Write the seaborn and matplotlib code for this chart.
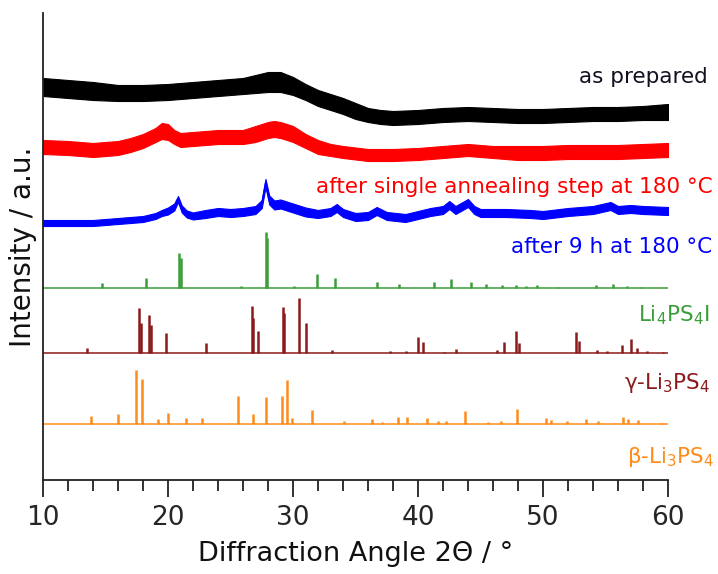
import numpy as np
import pandas as pd
import matplotlib
matplotlib.use("Agg")
import matplotlib.pyplot as plt
import seaborn as sns

# ---------------- data ----------------
# noisy measured patterns: node angles, band centre (relative intensity) and half band width
black_x = [10, 12, 14, 16, 18, 20, 22, 24, 26, 27, 28, 29, 30, 31, 32, 33, 34, 35, 36, 37, 38,
           40, 42, 44, 46, 48, 50, 52, 54, 56, 58, 60]
black_y = [33, 31, 29, 27, 27, 28, 30, 32, 34, 36, 38, 38, 34, 28, 22, 18, 14, 9, 5, 3, 2,
           3, 5, 6, 5, 4, 4, 5, 6, 6, 7, 8]
black_w = [9, 9, 9, 8, 8, 8, 8, 8, 8, 9, 10, 10, 9, 8, 8, 8, 8, 8, 7, 7, 7,
           7, 7, 7, 7, 7, 7, 7, 7, 7, 7, 8]

red_x = [10, 12, 14, 16, 17, 18, 19, 19.5, 20, 20.5, 21, 22, 24, 26, 27, 28, 28.5, 29, 30, 31,
         32, 33, 34, 36, 38, 40, 42, 44, 46, 48, 50, 52, 54, 56, 58, 60]
red_y = [33, 32, 30, 32, 35, 39, 45, 49, 48, 43, 40, 41, 43, 43, 46, 50, 51, 50, 46, 39,
         33, 30, 28, 25, 25, 26, 28, 30, 28, 27, 27, 28, 28, 28, 29, 30]
red_w = [7, 7, 7, 7, 7, 7, 7, 8, 8, 7, 7, 7, 7, 7, 8, 8, 8, 8, 8, 7,
         7, 6, 6, 6, 6, 6, 6, 6, 6, 7, 7, 7, 7, 7, 7, 7]

blue_x = [10, 12, 14, 15, 16, 17, 18, 19, 19.5, 20, 20.5, 20.8, 21.1, 21.5, 22, 23, 24, 25, 26,
          27, 27.5, 27.8, 28.1, 28.5, 29, 30, 31, 32, 33, 33.5, 34, 35, 36, 36.7, 37.5, 39, 40,
          41, 42, 42.5, 43, 44, 44.5, 45, 47, 49, 50, 52, 54, 55.4, 56, 57, 58, 60]
blue_y = [17, 17, 17, 18, 19, 20, 21, 24, 27, 29, 33, 41, 31, 26, 24, 26, 28, 27, 28,
          30, 36, 57, 40, 35, 36, 32, 28, 26, 28, 32, 27, 23, 24, 29, 24, 22, 25,
          28, 30, 35, 30, 37, 30, 27, 27, 26, 25, 28, 30, 34, 30, 31, 30, 29]
blue_w = [3, 3, 3, 3, 3, 3, 3, 3, 3, 3.5, 3.5, 3, 3.5, 3.5, 3.5, 4, 4, 4, 4,
          4, 4, 4, 4.5, 4.5, 4.5, 4.5, 4.5, 4, 4, 4, 4, 4, 4, 4, 4, 4, 4,
          4, 4, 4, 4, 4, 4, 4, 4, 4, 4, 4, 4, 4, 4, 4, 4, 4]

# reference patterns: peak positions (2theta) and heights
li4ps4i_pos = [14.7, 18.2, 20.9, 21.05, 25.8, 27.85, 27.95, 30.1, 31.9, 33.35, 36.7, 38.5, 41.3,
               42.6, 44.2, 45.4, 46.7, 47.8, 48.6, 49.5, 51.2, 54.2, 55.6, 56.7, 57.8]
li4ps4i_int = [5, 10, 35, 30, 2, 56, 50, 2, 14, 10, 6, 4, 6,
               9, 6, 4, 3, 3, 2, 3, 1, 3, 4, 2, 1]

gamma_pos = [13.5, 17.7, 17.8, 18.5, 18.6, 19.8, 23.0, 26.7, 26.8, 27.2, 29.2, 29.3, 30.5, 31.0,
             33.1, 37.8, 39.0, 40.0, 40.4, 42.1, 43.0, 46.3, 46.9, 47.8, 48.1, 52.6, 52.9,
             54.3, 55.1, 56.3, 57.0, 57.5, 58.3, 59.6]
gamma_int = [5, 45, 30, 38, 28, 20, 10, 47, 35, 22, 46, 40, 55, 30,
             3, 2, 2, 16, 11, 1, 4, 3, 11, 22, 10, 21, 12,
             3, 2, 8, 14, 5, 2, 1]

beta_pos = [13.8, 16.0, 17.45, 17.9, 19.2, 20.0, 21.45, 22.75, 25.6, 26.8, 27.85, 29.1, 29.5,
            29.9, 31.5, 34.1, 36.3, 37.1, 38.4, 39.1, 40.7, 41.6, 42.2, 43.75, 45.6, 46.6,
            47.9, 50.2, 50.6, 51.9, 53.4, 54.4, 56.4, 56.8, 57.6, 59.6]
beta_int = [8, 10, 54, 45, 5, 11, 6, 6, 28, 10, 27, 28, 44,
            6, 14, 3, 5, 2, 7, 7, 6, 3, 3, 13, 2, 3,
            15, 6, 4, 3, 5, 3, 7, 5, 4, 1]

labels = ["as prepared", "after single annealing step at 180 °C", "after 9 h at 180 °C",
          "Li$_4$PS$_4$I", "γ-Li$_3$PS$_4$", "β-Li$_3$PS$_4$"]
x_ticks = [10, 20, 30, 40, 50, 60]

# ---------------- style ----------------
sns.set_theme(style="ticks")
plt.rcParams['font.family'] = ['DejaVu Sans']
plt.rcParams['mathtext.fontset'] = 'dejavusans'

W, H = 718, 574
fig = plt.figure(figsize=(W / 100, H / 100), dpi=100)
ax = fig.add_axes([43 / W, 1 - 480 / H, 625 / W, 467 / H])

offsets = {"black": 360, "red": 300, "blue": 240, "green": 192, "gamma": 127, "beta": 56}
colors = {"black": "#000000", "red": "#ff0000", "blue": "#0000ff",
          "green": "#3a9e3a", "gamma": "#8b1a1a", "beta": "#ff8c1a"}

# noisy measured data as bands
noisy = [("black", black_x, black_y, black_w),
         ("red", red_x, red_y, red_w),
         ("blue", blue_x, blue_y, blue_w)]
rows = []
for key, xs, ys, ws in noisy:
    xs = np.asarray(xs, float)
    ys = np.asarray(ys, float) + offsets[key]
    ws = np.asarray(ws, float)
    ax.fill_between(xs, ys - ws, ys + ws, color=colors[key], lw=0.8, edgecolor=colors[key])
    for a, b in zip(xs, ys):
        rows.append({"angle": a, "intensity": b, "sample": key})
df = pd.DataFrame(rows)
sns.lineplot(data=df, x="angle", y="intensity", hue="sample", units="sample", estimator=None,
             palette={k: colors[k] for k in ["black", "red", "blue"]}, lw=1.0,
             legend=False, ax=ax)

# reference stick patterns
refs = [("green", li4ps4i_pos, li4ps4i_int),
        ("gamma", gamma_pos, gamma_int),
        ("beta", beta_pos, beta_int)]
for key, pos, inten in refs:
    base = offsets[key]
    ax.plot([10, 60], [base, base], color=colors[key], lw=1.1, solid_capstyle="butt")
    ax.vlines(pos, base, base + np.asarray(inten, float), color=colors[key], lw=1.8)

ax.set_xlim(10, 60)
ax.set_ylim(0, 467)
ax.set_xticks(x_ticks)
ax.set_xticks(np.arange(10, 61, 2), minor=True)
ax.set_yticks([])
ax.tick_params(axis="x", which="major", length=12, width=1.3, direction="out",
               labelsize=19, pad=6, color="#222222")
ax.tick_params(axis="x", which="minor", length=8, width=1.3, direction="out", color="#222222")
for s in ["top", "right"]:
    ax.spines[s].set_visible(False)
for s in ["left", "bottom"]:
    ax.spines[s].set_color("#222222")
    ax.spines[s].set_linewidth(1.3)

ax.set_xlabel("Diffraction Angle 2Θ / °", fontsize=19.5, labelpad=7, color="#111111")
ax.set_ylabel("Intensity / a.u.", fontsize=20, labelpad=4, color="#111111")

# right-hand labels (right edge x, centre y in pixels)
label_pos = [(708, 77), (713, 187), (712, 247), (710, 315), (710, 383), (714, 457)]
label_cols = ["#111122", colors["red"], colors["blue"], "#3a9e3a", "#8b1a1a", "#ff8c1a"]
for txt, (px, py), c in zip(labels, label_pos, label_cols):
    fig.text(px / W, 1 - py / H, txt, ha="right", va="center", fontsize=15.5, color=c)

fig.savefig("out.png", dpi=100)
